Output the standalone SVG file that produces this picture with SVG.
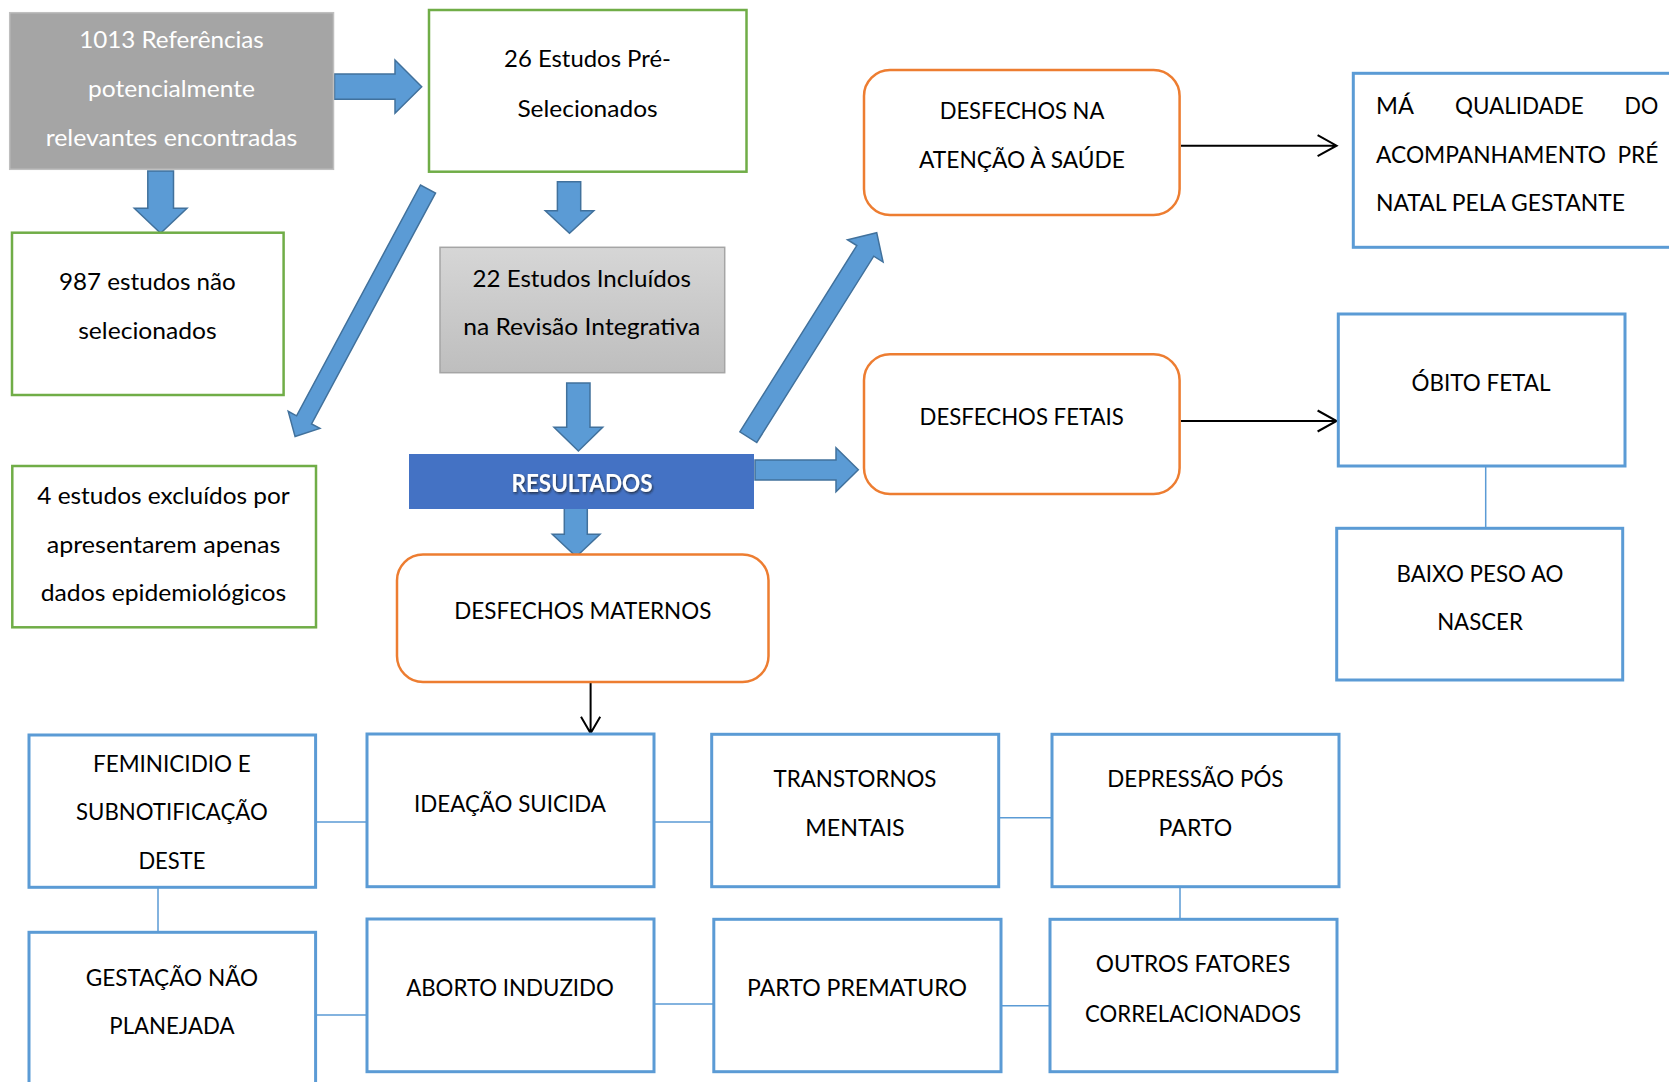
<svg xmlns="http://www.w3.org/2000/svg" width="1669" height="1082" viewBox="0 0 1669 1082">
<style>
text{font-family:Lato,"Liberation Sans",sans-serif;font-size:24px;fill:#000;text-anchor:middle}
.w{fill:#fff}
.l{text-anchor:start}
.g{fill:#fff;stroke:#70AD47;stroke-width:2.5}
.o{fill:#fff;stroke:#ED7D31;stroke-width:2.5}
.b{fill:#fff;stroke:#5B9BD5;stroke-width:3}
.ba{fill:#5B9BD5;stroke:#41719C;stroke-width:1.5;stroke-linejoin:miter}
.c{stroke:#5B9BD5;stroke-width:1.5;fill:none}
.k{stroke:#000;stroke-width:2;fill:none}
.res{font-weight:bold;fill:#fff;font-size:24px}
</style>
<defs>
<linearGradient id="gr" x1="0" y1="0" x2="0" y2="1"><stop offset="0" stop-color="#D6D6D6"/><stop offset="1" stop-color="#BEBEBE"/></linearGradient>
<filter id="sh" x="-10%" y="-30%" width="120%" height="160%"><feDropShadow dx="1" dy="1.5" stdDeviation="1" flood-color="#1a1a1a" flood-opacity="0.75"/></filter>
</defs>
<rect width="1669" height="1082" fill="#fff"/>

<g id="connectors">
<polygon class="ba" points="334.5,74 395,74 395,60 421.7,86.7 395,113.3 395,99.3 334.5,99.3"/>
<polygon class="ba" points="147.8,171 173.5,171 173.5,208.3 187,208.3 160.6,233.3 134.3,208.3 147.8,208.3"/>
<polygon class="ba" points="557.4,181.7 580.7,181.7 580.7,210.7 593.8,210.7 569.5,233.3 545.3,210.7 557.4,210.7"/>
<polygon class="ba" points="566.7,383 590,383 590,427.3 602.7,427.3 578.4,451 554,427.3 566.7,427.3"/>
<polygon class="ba" points="564.3,506 587.3,506 587.3,534.3 600,534.3 576.2,556.7 552.3,534.3 564.3,534.3"/>
<polygon class="ba" points="755,460 836,460 836,447.7 858.3,469.7 836,491.7 836,480 755,480"/>
<polygon class="ba" transform="translate(428,189) rotate(118.23)" points="0,-8.5 262,-8.5 262,-18 281,0 262,18 262,8.5 0,8.5"/>
<polygon class="ba" transform="translate(748.3,437.2) rotate(-57.88)" points="0,-10 220,-10 220,-21 241.5,0 220,21 220,10 0,10"/>
<path class="k" d="M1181,145.7H1336M1317.6,135.2L1336.6,145.7L1317.6,156.2"/>
<path class="k" d="M1181,421H1336M1317.6,410.5L1336.6,421L1317.6,431.5"/>
<path class="k" d="M590.6,682V733M581,716.7L590.6,733.3L600.2,716.7"/>
<path class="c" d="M1485.7,466V528.3M315.6,822H367M654,822H711.7M998.7,817.7H1052M158,887.3V932.3M1180,886.7V919.3M315.6,1015H367M654,1004H713.8M1001,1005.7H1050"/>
</g>

<g id="n1"><rect x="9.7" y="12.7" width="323.8" height="156.6" fill="#A5A5A5" stroke="#BFBFBF" stroke-width="1.5"/>
<text class="w" x="171.5" y="48" textLength="184.6" lengthAdjust="spacingAndGlyphs">1013 Referências</text><text class="w" x="171.5" y="97" textLength="167" lengthAdjust="spacingAndGlyphs">potencialmente</text><text class="w" x="171.5" y="146" textLength="251.7" lengthAdjust="spacingAndGlyphs">relevantes encontradas</text></g>

<g id="n2"><rect class="g" x="429" y="10" width="317.5" height="161.7"/>
<text x="587.5" y="67" textLength="166.8" lengthAdjust="spacingAndGlyphs">26 Estudos Pré-</text><text x="587.5" y="116.5" textLength="140.2" lengthAdjust="spacingAndGlyphs">Selecionados</text></g>

<g id="n3"><rect class="g" x="12" y="232.7" width="271.6" height="162.3"/>
<text x="147.4" y="290" textLength="176.8" lengthAdjust="spacingAndGlyphs">987 estudos não</text><text x="147.4" y="339.3" textLength="138.4" lengthAdjust="spacingAndGlyphs">selecionados</text></g>

<g id="n4"><rect x="440" y="247.3" width="284.7" height="125.4" fill="url(#gr)" stroke="#A5A5A5" stroke-width="1.5"/>
<text x="581.7" y="287.3" textLength="218.4" lengthAdjust="spacingAndGlyphs">22 Estudos Incluídos</text><text x="581.7" y="335" textLength="237" lengthAdjust="spacingAndGlyphs">na Revisão Integrativa</text></g>

<g id="n5"><rect class="g" x="12.3" y="466" width="303.7" height="161.3"/>
<text x="163.5" y="504" textLength="252.5" lengthAdjust="spacingAndGlyphs">4 estudos excluídos por</text><text x="163.5" y="552.5" textLength="233.6" lengthAdjust="spacingAndGlyphs">apresentarem apenas</text><text x="163.5" y="601" textLength="245.5" lengthAdjust="spacingAndGlyphs">dados epidemiológicos</text></g>

<g id="n6"><rect x="409" y="454" width="345" height="55" fill="#4472C4"/>
<text class="res" x="582" y="491.7" textLength="141" lengthAdjust="spacingAndGlyphs" filter="url(#sh)">RESULTADOS</text></g>

<g id="n7"><rect class="o" x="397" y="554.5" width="371.5" height="127.5" rx="26"/>
<text x="582.8" y="619.3" textLength="257" lengthAdjust="spacingAndGlyphs">DESFECHOS MATERNOS</text></g>

<g id="n8"><rect class="o" x="864" y="70" width="315.6" height="145" rx="26"/>
<text x="1022" y="119.3" textLength="164.7" lengthAdjust="spacingAndGlyphs">DESFECHOS NA</text><text x="1022" y="168.3" textLength="205.9" lengthAdjust="spacingAndGlyphs">ATENÇÃO À SAÚDE</text></g>

<g id="n9"><rect class="o" x="864" y="354.3" width="315.6" height="139.7" rx="26"/>
<text x="1021.7" y="425" textLength="204.2" lengthAdjust="spacingAndGlyphs">DESFECHOS FETAIS</text></g>

<g id="n10"><rect class="b" x="1353.3" y="73.3" width="330" height="174"/>
<text class="l" x="1376" y="114" textLength="37.9" lengthAdjust="spacingAndGlyphs">MÁ</text><text class="l" x="1455" y="114" textLength="128.7" lengthAdjust="spacingAndGlyphs">QUALIDADE</text><text class="l" x="1624.6" y="114" textLength="33.7" lengthAdjust="spacingAndGlyphs">DO</text>
<text class="l" x="1376" y="163.3" textLength="230" lengthAdjust="spacingAndGlyphs">ACOMPANHAMENTO</text><text class="l" x="1617.4" y="163.3" textLength="40.9" lengthAdjust="spacingAndGlyphs">PRÉ</text>
<text class="l" x="1376" y="211" textLength="249" lengthAdjust="spacingAndGlyphs">NATAL PELA GESTANTE</text></g>

<g id="n11"><rect class="b" x="1338.3" y="314" width="286.7" height="152"/>
<text x="1481" y="390.7" textLength="139" lengthAdjust="spacingAndGlyphs">ÓBITO FETAL</text></g>

<g id="n12"><rect class="b" x="1336.7" y="528.3" width="286" height="151.7"/>
<text x="1480" y="581.7" textLength="167" lengthAdjust="spacingAndGlyphs">BAIXO PESO AO</text><text x="1480" y="630" textLength="85.7" lengthAdjust="spacingAndGlyphs">NASCER</text></g>

<g id="n13"><rect class="b" x="29" y="735" width="286.6" height="152.3"/>
<text x="171.9" y="772.3" textLength="157.9" lengthAdjust="spacingAndGlyphs">FEMINICIDIO E</text><text x="171.9" y="820" textLength="191.7" lengthAdjust="spacingAndGlyphs">SUBNOTIFICAÇÃO</text><text x="171.9" y="869.3" textLength="67" lengthAdjust="spacingAndGlyphs">DESTE</text></g>

<g id="n14"><rect class="b" x="367" y="734" width="287" height="152.7"/>
<text x="510" y="812.3" textLength="192" lengthAdjust="spacingAndGlyphs">IDEAÇÃO SUICIDA</text></g>

<g id="n15"><rect class="b" x="711.7" y="734.3" width="287" height="152.4"/>
<text x="855" y="787.3" textLength="163" lengthAdjust="spacingAndGlyphs">TRANSTORNOS</text><text x="855" y="836" textLength="99.4" lengthAdjust="spacingAndGlyphs">MENTAIS</text></g>

<g id="n16"><rect class="b" x="1052" y="734.3" width="287" height="152.4"/>
<text x="1195.4" y="787.3" textLength="176.2" lengthAdjust="spacingAndGlyphs">DEPRESSÃO PÓS</text><text x="1195.4" y="836" textLength="73.6" lengthAdjust="spacingAndGlyphs">PARTO</text></g>

<g id="n17"><rect class="b" x="29" y="932.3" width="286.6" height="170"/>
<text x="171.9" y="985.7" textLength="172.4" lengthAdjust="spacingAndGlyphs">GESTAÇÃO NÃO</text><text x="171.9" y="1034" textLength="125.2" lengthAdjust="spacingAndGlyphs">PLANEJADA</text></g>

<g id="n18"><rect class="b" x="367" y="919" width="287" height="152.7"/>
<text x="510" y="996" textLength="207.7" lengthAdjust="spacingAndGlyphs">ABORTO INDUZIDO</text></g>

<g id="n19"><rect class="b" x="713.8" y="919.3" width="287.2" height="152.4"/>
<text x="857" y="996" textLength="220" lengthAdjust="spacingAndGlyphs">PARTO PREMATURO</text></g>

<g id="n20"><rect class="b" x="1050" y="919.3" width="287" height="152.4"/>
<text x="1193" y="972.3" textLength="194.5" lengthAdjust="spacingAndGlyphs">OUTROS FATORES</text><text x="1193" y="1021.7" textLength="215.8" lengthAdjust="spacingAndGlyphs">CORRELACIONADOS</text></g>
</svg>
